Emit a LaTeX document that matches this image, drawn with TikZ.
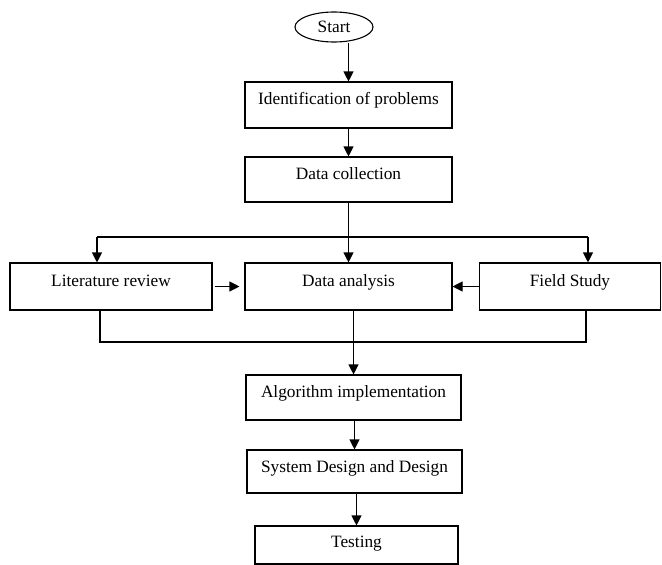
\documentclass[tikz,border=0pt]{standalone}
\usepackage{fontspec}
\setmainfont{Liberation Serif}
\usetikzlibrary{shapes.geometric,arrows.meta}
\begin{document}
\begin{tikzpicture}[x=1pt,y=-1pt,
    font=\fontsize{17.3}{20}\selectfont,
    proc/.style={draw,line width=1.1pt,inner sep=0pt,text height=22pt,text depth=23pt},
    flow/.style={line width=1.1pt,-{Triangle[length=10pt,width=10pt]}},
    link/.style={line width=1.1pt}]
        \useasboundingbox (0,0) rectangle (662,565);
        \node[draw,ellipse,line width=1.1pt,minimum width=78pt,minimum height=30pt,inner sep=0pt] (start) at (334,27) {Start};
        \node[proc,minimum width=207pt,text depth=24pt] (ident) at (348.5,105) {Identification of problems};
        \node[proc,minimum width=207pt] (collect) at (348.5,179.5) {Data collection};
        \node[proc,minimum width=202pt,text depth=24pt,text height=23pt] (lit) at (111,286.5) {Literature review};
        \node[proc,minimum width=207pt,text depth=24pt,text height=23pt] (analysis) at (348.5,286.5) {Data analysis};
        \node[proc,minimum width=181pt,text depth=24pt,text height=23pt] (field) at (570,286.5) {Field Study};
        \node[proc,minimum width=215pt] (algo) at (353.5,397.5) {Algorithm implementation};
        \node[proc,minimum width=215pt,text depth=21pt] (sysd) at (354.5,471.5) {System Design and Design};
        \node[proc,minimum width=203pt,text height=21pt,text depth=17pt] (test) at (356.5,545) {Testing};
        % fork below data collection, join below the middle row
        \coordinate (forkL) at (97,237);
        \coordinate (forkR) at (588,237);
        \coordinate (joinL) at (100,342);
        \coordinate (joinR) at (586,342);

        \draw[flow] (ident.north |- start.south) -- (ident.north);
        \draw[flow] (ident) -- (collect);
        \draw[flow] (collect) -- (analysis);
        \draw[link] (forkL) -- (forkR);
        \draw[flow] (forkL) -- (forkL |- lit.north);
        \draw[flow] (forkR) -- (forkR |- field.north);
        \draw[flow,shorten <=2pt,shorten >=5pt] (lit) -- (analysis);
        \draw[flow] (field) -- (analysis);
        \draw[link] (joinL |- lit.south) -- (joinL) -- (joinR) -- (joinR |- field.south);
        \draw[flow] (algo.north |- analysis.south) -- (algo.north);
        \draw[flow] (sysd.north |- algo.south) -- (sysd.north);
        \draw[flow] (test.north |- sysd.south) -- (test.north);
\end{tikzpicture}
\end{document}
